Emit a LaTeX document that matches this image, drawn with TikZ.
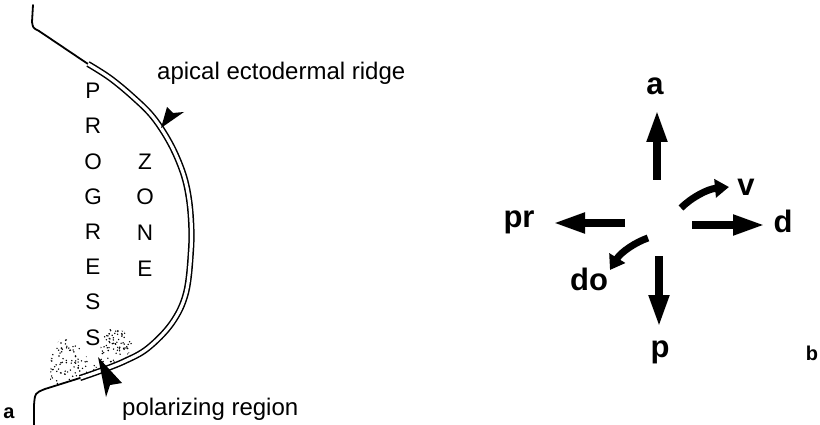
\documentclass[tikz,border=0pt]{standalone}
\usepackage{fontspec}
\setmainfont{Liberation Sans}
\usetikzlibrary{arrows.meta}

\begin{document}
\begin{tikzpicture}[x=1pt,y=-1pt,
  outline/.style={line width=1.8pt, line join=round, line cap=round},
  ridge/.style={line width=1.5pt, double=white, double distance=3.2pt},
  letter/.style={inner sep=0pt, font=\fontsize{22.5}{22.5}\selectfont},
  lbl/.style={inner sep=0pt, anchor=base west, font=\fontsize{24}{24}\selectfont},
  axis/.style={line width=7.5pt, -{Triangle[length=32pt,width=19pt]}},
  turn/.style={line width=7pt, -{Triangle[length=14pt,width=18pt]}},
  dir/.style={inner sep=0pt, anchor=base, font=\bfseries\fontsize{31}{31}\selectfont},
  panel/.style={inner sep=0pt, anchor=base, font=\bfseries\fontsize{20}{20}\selectfont}]

  \useasboundingbox (0,0) rectangle (820,425);

  % Draw the limb bud outline
  \draw[outline] (33,5) -- (32,22) .. controls (33,28) .. (39,31) -- (88,64);
  \draw[ridge] plot[smooth, tension=0.6] coordinates {(88,64) (110,78) (133,97)
    (153,117) (170,143) (182,170) (188,193) (191,220) (191,250) (186,293)
    (172,323) (148,348) (125,361) (100,371) (80,378)};
  \draw[outline] (80,378) -- (45,389) .. controls (35,393) .. (34,405) -- (34,425);

  % Stippled polarizing region
  \pgfmathsetseed{11}
  \begin{scope}
    \clip (50,386) -- (51,352) -- (60,339) -- (74,340) -- (86,356) -- (98,368) -- (78,378) -- cycle;
    \foreach \i in {1,...,130} \fill ({50+50*rnd},{336+52*rnd}) circle (0.8pt);
  \end{scope}
  \begin{scope}
    \clip (100,366) -- (101,338) -- (110,329) -- (124,331) -- (134,342) -- (128,355) -- (112,364) -- cycle;
    \foreach \i in {1,...,100} \fill ({100+36*rnd},{328+38*rnd}) circle (0.8pt);
  \end{scope}

  % Zone letters
  \foreach \ch [count=\i] in {P,R,O,G,R,E,S,S}
    \node[letter] (prog\i) at (93,{91+35.2*(\i-1)}) {\ch};
  \foreach \ch [count=\i] in {Z,O,N,E}
    \node[letter] (zone\i) at (145,{161.5+35.7*(\i-1)}) {\ch};

  % Pointers and their labels
  \fill (161,128) -- (167,107) -- (173,113) -- (184,112) -- cycle;
  \node[lbl] (aer) at (157,80) {apical ectodermal ridge};
  \fill (98,357) -- (106,397) -- (110,385) -- (122,383) -- cycle;
  \node[lbl] (zpa) at (122,415) {polarizing region};
  \node[panel] (pa) at (9,418) {a};

  % Axes
  \node[dir] (a) at (655,95) {a};
  \node[dir] (p) at (660,357) {p};
  \node[dir] (pr) at (519,227) {pr};
  \node[dir] (d) at (783,233) {d};
  \node[dir] (v) at (746,196) {v};
  \node[dir] (do) at (589,290) {do};
  \coordinate (up0) at (657,180);   \coordinate (up1) at (657,110);
  \coordinate (dn0) at (659,256);   \coordinate (dn1) at (659,327);
  \coordinate (lt0) at (625,223);   \coordinate (lt1) at (553,223);
  \coordinate (rt0) at (692,225);   \coordinate (rt1) at (765,225);
  \draw[axis] (up0) -- (up1);
  \draw[axis] (dn0) -- (dn1);
  \draw[axis] (lt0) -- (lt1);
  \draw[axis] (rt0) -- (rt1);

  % Rotations
  \coordinate (v0) at (681,208);    \coordinate (v1) at (729,187);
  \coordinate (do0) at (648,238);   \coordinate (do1) at (610,270);
  \draw[turn] (v0) .. controls (692,197) and (708,189) .. (v1);
  \draw[turn] (do0) .. controls (636,242) and (621,252) .. (do1);

  \node[panel] (pb) at (812,360) {b};
\end{tikzpicture}
\end{document}
